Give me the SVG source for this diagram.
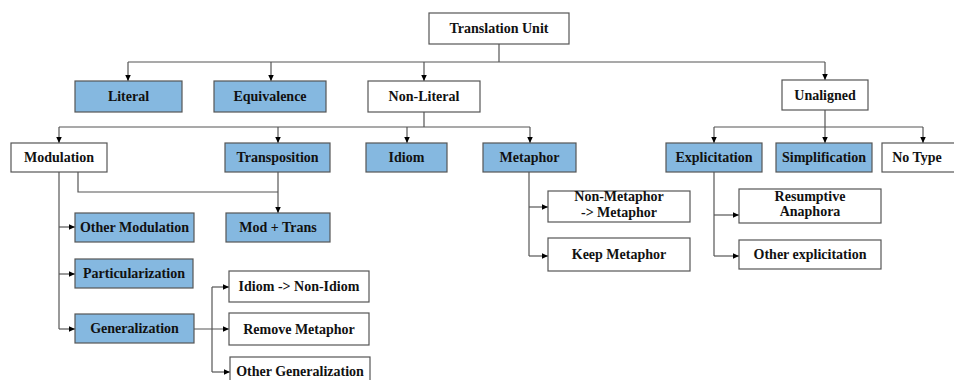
<svg xmlns="http://www.w3.org/2000/svg" width="954" height="380" viewBox="0 0 954 380">
<defs>
<style>
.b rect{fill:#ffffff;stroke:#555555;stroke-width:1.2}
.b.blue rect{fill:#85b8e0}
.b text{font-family:"Liberation Serif","Times New Roman",serif;font-weight:bold;font-size:14px;fill:#111111;text-anchor:middle}
#connectors path{fill:none;stroke:#555555;stroke-width:1.2}
#connectors path.a{marker-end:url(#arr)}
</style>
<marker id="arr" markerWidth="7" markerHeight="7" refX="6.5" refY="3" orient="auto" markerUnits="userSpaceOnUse">
<path d="M0,0 L6.5,3 L0,6 z" fill="#000000"/>
</marker>
</defs>
<rect width="954" height="380" fill="#ffffff"/>
<g id="connectors">
<path d="M499,44 V62 M128,62 H825"/>
<path class="a" d="M128,62 V81"/>
<path class="a" d="M271,62 V81"/>
<path class="a" d="M424,62 V81"/>
<path class="a" d="M825,62 V80"/>
<path d="M424,112 V127 M59,127 H530"/>
<path class="a" d="M59,127 V143"/>
<path class="a" d="M278,127 V143"/>
<path class="a" d="M407,127 V143"/>
<path class="a" d="M530,127 V143"/>
<path d="M825,110 V127 M714,127 H923"/>
<path class="a" d="M714,127 V143"/>
<path class="a" d="M825,127 V143"/>
<path class="a" d="M923,127 V143"/>
<path d="M78,172 V192 H278"/>
<path class="a" d="M278,172 V213"/>
<path d="M59,172 V329"/>
<path class="a" d="M59,227 H75"/>
<path class="a" d="M59,274 H75"/>
<path class="a" d="M59,329 H75"/>
<path class="a" d="M194,329 H229"/>
<path d="M212,287 V372"/>
<path class="a" d="M212,287 H229"/>
<path class="a" d="M212,372 H230"/>
<path d="M529,172 V256"/>
<path class="a" d="M529,207 H548"/>
<path class="a" d="M529,256 H548"/>
<path d="M714,172 V256"/>
<path class="a" d="M714,215 H739"/>
<path class="a" d="M714,256 H739"/>
</g>
<g id="translation-unit" class="b"><rect x="429" y="13" width="140" height="31"/><text x="499" y="33">Translation Unit</text></g>
<g id="literal" class="b blue"><rect x="75" y="81" width="107" height="31"/><text x="128.5" y="101">Literal</text></g>
<g id="equivalence" class="b blue"><rect x="214" y="81" width="112" height="31"/><text x="270" y="101">Equivalence</text></g>
<g id="non-literal" class="b"><rect x="368" y="81" width="112" height="31"/><text x="424" y="101">Non-Literal</text></g>
<g id="unaligned" class="b"><rect x="782" y="80" width="86" height="30"/><text x="825" y="100">Unaligned</text></g>
<g id="modulation" class="b"><rect x="11" y="143" width="96" height="29"/><text x="59" y="162">Modulation</text></g>
<g id="transposition" class="b blue"><rect x="225" y="143" width="105" height="29"/><text x="277.5" y="162">Transposition</text></g>
<g id="idiom" class="b blue"><rect x="366" y="143" width="81" height="29"/><text x="406.5" y="162">Idiom</text></g>
<g id="metaphor" class="b blue"><rect x="483" y="143" width="93" height="29"/><text x="529.5" y="162">Metaphor</text></g>
<g id="explicitation" class="b blue"><rect x="666" y="143" width="96" height="29"/><text x="714" y="162">Explicitation</text></g>
<g id="simplification" class="b blue"><rect x="776" y="143" width="96" height="29"/><text x="824" y="162">Simplification</text></g>
<g id="no-type" class="b"><rect x="882" y="143" width="74" height="29"/><text x="917" y="162">No Type</text></g>
<g id="mod-trans" class="b blue"><rect x="226" y="213" width="104" height="29"/><text x="278" y="232">Mod + Trans</text></g>
<g id="other-modulation" class="b blue"><rect x="75" y="213" width="119" height="29"/><text x="134.5" y="232">Other Modulation</text></g>
<g id="particularization" class="b blue"><rect x="75" y="259" width="118" height="29"/><text x="134" y="278">Particularization</text></g>
<g id="generalization" class="b blue"><rect x="75" y="314" width="119" height="29"/><text x="134.5" y="333">Generalization</text></g>
<g id="idiom-non-idiom" class="b"><rect x="229" y="271" width="140" height="31"/><text x="299" y="291">Idiom -&gt; Non-Idiom</text></g>
<g id="remove-metaphor" class="b"><rect x="229" y="313" width="140" height="32"/><text x="299" y="334">Remove Metaphor</text></g>
<g id="other-generalization" class="b"><rect x="230" y="357" width="140" height="30"/><text x="300" y="376">Other Generalization</text></g>
<g id="non-metaphor-metaphor" class="b"><rect x="548" y="191" width="142" height="31"/><text x="619" y="201">Non-Metaphor</text><text x="619" y="216.5">-&gt; Metaphor</text></g>
<g id="keep-metaphor" class="b"><rect x="548" y="238" width="142" height="33"/><text x="619" y="259">Keep Metaphor</text></g>
<g id="resumptive-anaphora" class="b"><rect x="739" y="189" width="142" height="34"/><text x="810" y="200.5">Resumptive</text><text x="810" y="216">Anaphora</text></g>
<g id="other-explicitation" class="b"><rect x="739" y="240" width="142" height="29"/><text x="810" y="259">Other explicitation</text></g>
</svg>
